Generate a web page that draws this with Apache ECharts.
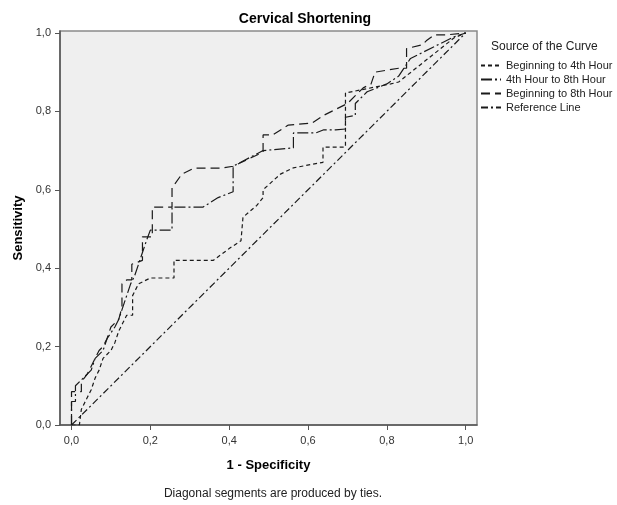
<!DOCTYPE html>
<html>
<head>
<meta charset="utf-8">
<script src="https://cdn.jsdelivr.net/npm/echarts@6/dist/echarts.min.js"></script>
<style>
html,body{margin:0;padding:0;background:#fff;}
#chart{width:617px;height:505px;}
</style>
</head>
<body>
<div id="chart"></div>
<script>
// ---- data ----
const chartTitle = 'Cervical Shortening';
const legendTitle = 'Source of the Curve';
const seriesNames = ['Beginning to 4th Hour', '4th Hour to 8th Hour', 'Beginning to 8th Hour', 'Reference Line'];
const xAxisName = '1 - Specificity';
const yAxisName = 'Sensitivity';
const footnote = 'Diagonal segments are produced by ties.';
const tickValues = [0, 0.2, 0.4, 0.6, 0.8, 1.0];

// Beginning to 4th Hour (lowest curve)
const beg4th = [[0,0],[0.02,0],[0.025,0.04],[0.04,0.07],[0.05,0.09],[0.06,0.12],[0.07,0.14],[0.08,0.17],[0.1,0.19],[0.11,0.21],[0.12,0.24],[0.13,0.26],[0.14,0.28],[0.155,0.28],[0.155,0.33],[0.17,0.36],[0.2,0.375],[0.26,0.375],[0.26,0.42],[0.36,0.42],[0.4,0.45],[0.43,0.47],[0.435,0.47],[0.435,0.53],[0.47,0.56],[0.486,0.58],[0.486,0.6],[0.53,0.64],[0.563,0.656],[0.638,0.67],[0.638,0.709],[0.695,0.709],[0.695,0.847],[0.81,0.87],[0.83,0.875],[0.97,0.987],[1,1]];

// 4th Hour to 8th Hour (middle curve)
const h4to8 = [[0,0],[0,0.06],[0.01,0.06],[0.01,0.1],[0.03,0.12],[0.05,0.14],[0.06,0.17],[0.08,0.19],[0.09,0.22],[0.11,0.25],[0.12,0.27],[0.13,0.3],[0.14,0.33],[0.15,0.36],[0.16,0.38],[0.17,0.41],[0.18,0.44],[0.19,0.47],[0.2,0.497],[0.255,0.497],[0.255,0.556],[0.334,0.556],[0.372,0.58],[0.41,0.595],[0.41,0.66],[0.486,0.7],[0.563,0.707],[0.563,0.745],[0.62,0.745],[0.64,0.753],[0.67,0.753],[0.695,0.755],[0.695,0.785],[0.72,0.79],[0.72,0.82],[0.75,0.85],[0.8,0.87],[0.83,0.89],[0.86,0.935],[0.97,0.99],[1,1]];

// Beginning to 8th Hour (upper curve)
const beg8th = [[0,0],[0,0.085],[0.025,0.085],[0.025,0.11],[0.04,0.13],[0.05,0.15],[0.06,0.17],[0.07,0.19],[0.08,0.2],[0.09,0.22],[0.1,0.25],[0.12,0.27],[0.128,0.3],[0.128,0.36],[0.14,0.37],[0.153,0.37],[0.153,0.41],[0.18,0.42],[0.18,0.48],[0.205,0.48],[0.205,0.556],[0.255,0.556],[0.255,0.605],[0.28,0.64],[0.31,0.655],[0.38,0.655],[0.41,0.66],[0.486,0.696],[0.486,0.74],[0.51,0.74],[0.55,0.765],[0.61,0.77],[0.64,0.79],[0.7,0.82],[0.72,0.84],[0.74,0.86],[0.76,0.87],[0.77,0.9],[0.83,0.91],[0.85,0.91],[0.85,0.96],[0.89,0.97],[0.9,0.98],[0.92,0.995],[0.95,0.995],[1,1]];

// Reference line
const refLine = [[0,0],[1,1]];

// ---- chart ----
const fmt = v => v.toFixed(1).replace('.', ',');
const lineCol = '#1a1a1a';
const chart = echarts.init(document.getElementById('chart'), null, {renderer: 'canvas'});
const dashes = [[4, 3], [11, 3, 2, 3], [9, 5], [7, 3, 2, 3]];
const dataSets = [beg4th, h4to8, beg8th, refLine];

chart.setOption({
  animation: false,
  backgroundColor: '#ffffff',
  title: [
    {text: chartTitle, left: 300, top: 7, textAlign: 'center',
     textStyle: {fontFamily: 'Liberation Sans', fontSize: 14, fontWeight: 'bold', color: '#000'}},
    {text: legendTitle, left: 486, top: 36,
     textStyle: {fontFamily: 'Liberation Sans', fontSize: 12, fontWeight: 'normal', color: '#222'}},
    {text: footnote, left: 268, top: 483, textAlign: 'center',
     textStyle: {fontFamily: 'Liberation Sans', fontSize: 12, fontWeight: 'normal', color: '#222'}}
  ],
  legend: {
    orient: 'vertical', left: 480, top: 59, padding: 0,
    itemWidth: 20, itemHeight: 8, itemGap: 1,
    itemStyle: {color: 'transparent', borderWidth: 0, opacity: 0},
    textStyle: {fontFamily: 'Liberation Sans', fontSize: 11, color: '#222', lineHeight: 13},
    data: seriesNames
  },
  grid: {
    left: 60, right: 140, top: 31, bottom: 80,
    show: true, backgroundColor: '#efefef', borderColor: '#8a8a8a', borderWidth: 1.5
  },
  xAxis: {
    type: 'value', min: -0.0292, max: 1.0287,
    name: xAxisName, nameLocation: 'middle', nameGap: 34,
    nameTextStyle: {fontFamily: 'Liberation Sans', fontSize: 13, fontWeight: 'bold', color: '#000'},
    axisLine: {show: true, onZero: false, lineStyle: {color: '#555', width: 1.5}},
    axisTick: {show: true, length: 5, lineStyle: {color: '#555'}, customValues: tickValues},
    axisLabel: {customValues: tickValues, formatter: fmt, fontFamily: 'Liberation Sans', fontSize: 11, color: '#333', margin: 10},
    splitLine: {show: false}
  },
  yAxis: {
    type: 'value', min: 0, max: 1.005,
    name: yAxisName, nameLocation: 'middle', nameGap: 32, nameRotate: 90,
    nameTextStyle: {fontFamily: 'Liberation Sans', fontSize: 13, fontWeight: 'bold', color: '#000'},
    axisLine: {show: true, onZero: false, lineStyle: {color: '#555', width: 1.5}},
    axisTick: {show: true, length: 5, lineStyle: {color: '#555'}, customValues: tickValues},
    axisLabel: {customValues: tickValues, formatter: fmt, fontFamily: 'Liberation Sans', fontSize: 11, color: '#333', margin: 9},
    splitLine: {show: false}
  },
  series: seriesNames.map((n, i) => ({
    name: n, type: 'line', data: dataSets[i], symbol: 'none', silent: true,
    lineStyle: {color: lineCol, width: 1.2, type: dashes[i]},
    itemStyle: {color: lineCol}
  }))
});
</script>
</body>
</html>
